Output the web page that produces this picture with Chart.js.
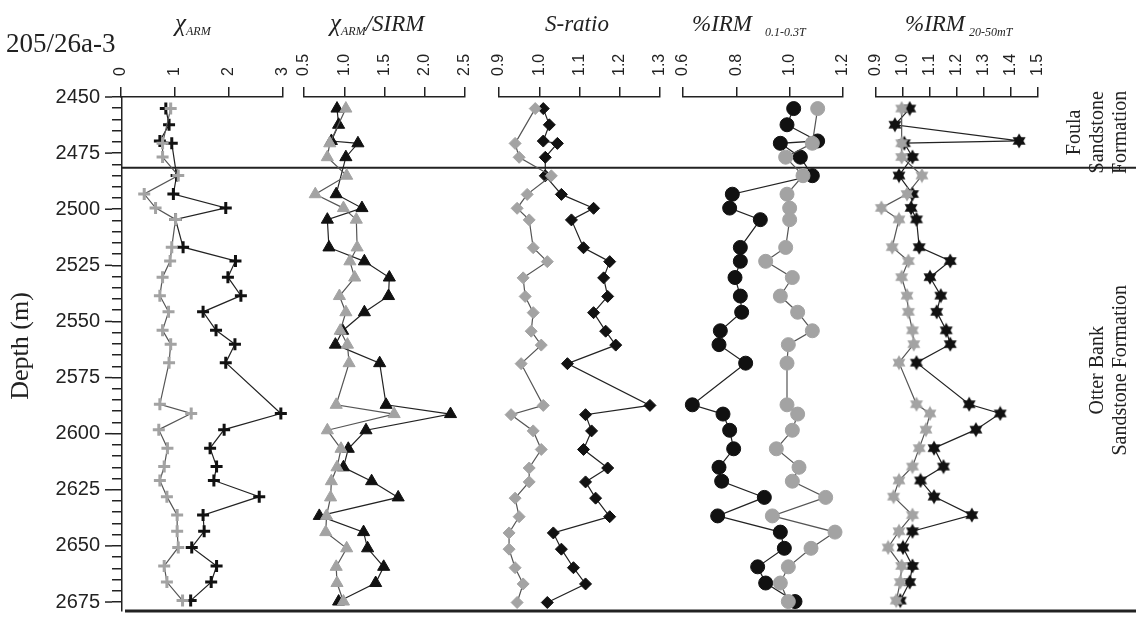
<!DOCTYPE html>
<html>
<head>
<meta charset="utf-8">
<script src="https://cdn.jsdelivr.net/npm/chart.js@4.4.0/dist/chart.umd.min.js"></script>
<style>
  body { margin: 0; background: #fff; }
  #wrap { position: relative; width: 1136px; height: 635px; }
  #wrap canvas { position: absolute; top: 0; }
</style>
</head>
<body>
<div id="wrap">
  <canvas id="frame" width="1136" height="635" style="left:0"></canvas>
</div>
<script>
// sample depths (m), shared by every panel
var depth = [2455, 2462, 2469, 2470, 2476, 2484, 2492, 2498, 2503, 2515, 2521, 2528, 2536, 2543, 2551,
             2557, 2565, 2583, 2587, 2594, 2602, 2610, 2616, 2623, 2631, 2638, 2645, 2653, 2660, 2668];
var depthMin = 2450, depthMax = 2679;
var formationBoundary = 2481.5;

// chi ARM
var chiArmBlack = [0.83, 0.89, 0.72, 0.94, null, 1.03, 0.97, 1.94, 1.01, 1.15, 2.12, 1.98, 2.22, 1.52, 1.76,
                   2.11, 1.94, null, 2.96, 1.91, 1.65, 1.77, 1.72, 2.56, 1.52, 1.54, 1.31, 1.77, 1.67, 1.29];
var chiArmGrey  = [0.92, null, null, 0.77, 0.77, 1.06, 0.43, 0.64, 1.01, 0.94, 0.91, 0.77, 0.72, 0.88, 0.77,
                   0.92, 0.89, 0.72, 1.30, 0.70, 0.86, 0.80, 0.72, 0.85, 1.04, 1.04, 1.06, 0.80, 0.85, 1.14];
// chi ARM / SIRM
var chiSirmBlack = [0.91, 0.93, 0.84, 1.17, 1.02, null, 0.90, 1.22, 0.79, 0.81, 1.25, 1.56, 1.55, 1.25, 0.98,
                    0.89, 1.44, 1.52, 2.32, 1.27, 1.05, 0.99, 1.34, 1.67, 0.69, 1.24, 1.29, 1.49, 1.39, 0.93];
var chiSirmGrey  = [1.02, null, null, 0.82, 0.79, 1.03, 0.64, 0.99, 1.15, 1.16, 1.07, 1.13, 0.94, 1.02, 0.95,
                    1.04, 1.06, 0.90, 1.62, 0.79, 0.96, 0.91, 0.84, 0.83, 0.78, 0.77, 1.03, 0.90, 0.91, 0.99];
// S-ratio
var sRatioBlack = [1.01, 1.025, 1.01, 1.045, 1.015, 1.015, 1.055, 1.135, 1.08, 1.11, 1.175, 1.16, 1.17, 1.135, 1.165,
                   1.19, 1.07, 1.275, 1.115, 1.13, 1.11, 1.17, 1.115, 1.14, 1.175, 1.035, 1.055, 1.085, 1.115, 1.02];
var sRatioGrey  = [0.99, null, null, 0.94, 0.95, 1.03, 0.97, 0.945, 0.975, 0.985, 1.02, 0.96, 0.965, 0.985, 0.98,
                   1.005, 0.955, 1.01, 0.93, 0.985, 1.005, 0.975, 0.975, 0.94, 0.95, 0.925, 0.925, 0.94, 0.96, 0.945];
// %IRM 0.1-0.3T
var irmHardBlack = [1.015, 0.99, 1.105, 0.965, 1.04, 1.085, 0.785, 0.775, 0.89, 0.815, 0.815, 0.795, 0.815, 0.82, 0.74,
                    0.735, 0.835, 0.635, 0.75, 0.775, 0.79, 0.735, 0.745, 0.905, 0.73, 0.965, 0.98, 0.88, 0.91, 1.02];
var irmHardGrey  = [1.105, null, null, 1.085, 0.985, 1.05, 0.99, 1.0, 1.0, 0.985, 0.91, 1.01, 0.965, 1.03, 1.085,
                    0.995, 0.99, 0.99, 1.03, 1.01, 0.95, 1.035, 1.01, 1.135, 0.935, 1.17, 1.08, 0.995, 0.965, 0.995];
// %IRM 20-50mT
var irmSoftBlack = [1.025, 0.97, 1.43, 1.005, 1.035, 0.985, 1.035, 1.03, 1.05, 1.06, 1.175, 1.10, 1.14, 1.125, 1.16,
                    1.175, 1.05, 1.245, 1.36, 1.27, 1.115, 1.15, 1.065, 1.115, 1.255, 1.035, 1.0, 1.035, 1.025, 0.99];
var irmSoftGrey  = [0.995, null, null, 0.995, 0.995, 1.07, 1.015, 0.92, 0.985, 0.96, 1.02, 0.995, 1.015, 1.02, 1.035,
                    1.04, 0.985, 1.05, 1.10, 1.085, 1.06, 1.035, 0.985, 0.965, 1.035, 0.985, 0.945, 0.995, 0.99, 0.975];

var BLACK = '#111', GREY = '#a3a3a3';
var serif = '"Liberation Serif", "Times New Roman", serif';
var sans = '"Liberation Sans", Arial, sans-serif';
Chart.defaults.font.family = sans;
Chart.defaults.color = '#222';

// six pointed star marker
function hexagram(colour) {
  var c = document.createElement('canvas');
  c.width = 16; c.height = 16;
  var g = c.getContext('2d');
  g.fillStyle = colour;
  [-90, 90].forEach(function (a0) {
    g.beginPath();
    for (var k = 0; k < 3; k++) {
      var a = (a0 + k * 120) * Math.PI / 180;
      g[k ? 'lineTo' : 'moveTo'](8 + 7.5 * Math.cos(a), 8 + 7.5 * Math.sin(a));
    }
    g.closePath();
    g.fill();
  });
  return c;
}

var panels = [
  { left: 121, right: 283, min: 0,   max: 3,   step: 1,   dec: 0, black: chiArmBlack,  grey: chiArmGrey,  style: 'cross',    r: 6 },
  { left: 304, right: 465, min: 0.5, max: 2.5, step: 0.5, dec: 1, black: chiSirmBlack, grey: chiSirmGrey, style: 'triangle', r: 7 },
  { left: 499, right: 660, min: 0.9, max: 1.3, step: 0.1, dec: 1, black: sRatioBlack,  grey: sRatioGrey,  style: 'rectRot',  r: 6 },
  { left: 683, right: 843, min: 0.6, max: 1.2, step: 0.2, dec: 1, black: irmHardBlack, grey: irmHardGrey, style: 'circle',   r: 7 },
  { left: 876, right: 1038, min: 0.9, max: 1.5, step: 0.1, dec: 1, black: irmSoftBlack, grey: irmSoftGrey, style: 'star',    r: 8 }
];

function series(vals, colour, lineColour, p) {
  var pts = [];
  depth.forEach(function (d, k) {
    if (vals[k] != null) pts.push({ x: vals[k], y: d });
  });
  return {
    data: pts,
    showLine: true,
    borderColor: lineColour,
    borderWidth: 1.2,
    pointStyle: p.style === 'star' ? hexagram(colour) : p.style,
    pointRadius: p.r,
    pointBackgroundColor: colour,
    pointBorderColor: colour,
    pointBorderWidth: p.style === 'cross' ? 3 : 1,
    clip: false
  };
}

var wrap = document.getElementById('wrap');
var tickFont = 16;
panels.forEach(function (p) {
  var pad = 40;
  var cv = document.createElement('canvas');
  cv.width = (p.right - p.left) + 2 * pad;
  cv.height = 635;
  cv.style.left = (p.left - pad) + 'px';
  wrap.appendChild(cv);
  new Chart(cv, {
    type: 'scatter',
    data: { datasets: [series(p.grey, GREY, '#555', p), series(p.black, BLACK, '#222', p)] },
    options: {
      responsive: false, animation: false, devicePixelRatio: 1,
      layout: { padding: { left: pad, right: pad, top: 0, bottom: 2 } },
      plugins: { legend: { display: false }, tooltip: { enabled: false } },
      scales: {
        x: {
          type: 'linear', position: 'top', min: p.min, max: p.max,
          afterFit: function (s) { s.height = 97; },
          ticks: {
            stepSize: p.step, autoSkip: false, minRotation: 90, maxRotation: 90, padding: 11,
            labelOffset: tickFont * 1.2,   // rotated top labels are pushed a line-height left
            color: '#222', font: { size: tickFont },
            callback: function (v) { return v.toFixed(p.dec); }
          },
          grid: { drawOnChartArea: false, tickLength: 10, color: '#222', lineWidth: 1.5 },
          border: { color: '#222', width: 1.5 }
        },
        y: { display: false, reverse: true, min: depthMin, max: depthMax }
      }
    }
  });
});

function richText(ctx, x, y, parts) {
  parts.forEach(function (q) {
    ctx.font = q.font;
    ctx.fillText(q.t, x, y + (q.dy || 0));
    x += ctx.measureText(q.t).width + (q.gap || 0);
  });
}

var big = 'italic 23px ' + serif, small = 'italic 12px ' + serif;
var titles = [
  { x: 175, parts: [{ t: 'χ', font: 'italic 25px ' + serif }, { t: 'ARM', font: small, dy: 4 }] },
  { x: 330, parts: [{ t: 'χ', font: 'italic 25px ' + serif }, { t: 'ARM', font: small, dy: 4 }, { t: '/SIRM', font: big }] },
  { x: 545, parts: [{ t: 'S-ratio', font: big }] },
  { x: 692, parts: [{ t: '%IRM', font: big, gap: 13 }, { t: '0.1-0.3T', font: small, dy: 5 }] },
  { x: 905, parts: [{ t: '%IRM', font: big, gap: 4 }, { t: '20-50mT', font: small, dy: 5 }] }
];
var formations = [
  { lines: ['Foula', 'Sandstone', 'Formation'], x: 1075, top: depthMin, bottom: formationBoundary },
  { lines: ['Otter Bank', 'Sandstone Formation'], x: 1098, top: formationBoundary, bottom: 2662 }
];

var framePlugin = {
  id: 'frame',
  afterDraw: function (chart) {
    var ctx = chart.ctx, a = chart.chartArea, ys = chart.scales.y;
    ctx.save();
    ctx.strokeStyle = '#222';
    // longer major ticks
    ctx.lineWidth = 1.5;
    for (var v = 2450; v <= 2675; v += 25) {
      var yy = ys.getPixelForValue(v);
      ctx.beginPath(); ctx.moveTo(a.left - 17, yy); ctx.lineTo(a.left - 10, yy); ctx.stroke();
    }
    // formation boundary and bottom line
    ctx.lineWidth = 2;
    var yb = ys.getPixelForValue(formationBoundary);
    ctx.beginPath(); ctx.moveTo(a.left, yb); ctx.lineTo(chart.width, yb); ctx.stroke();
    ctx.lineWidth = 3;
    ctx.beginPath(); ctx.moveTo(a.left + 3, a.bottom); ctx.lineTo(chart.width, a.bottom); ctx.stroke();

    ctx.fillStyle = '#222';
    ctx.textBaseline = 'alphabetic';
    ctx.textAlign = 'left';
    ctx.font = '27px ' + serif;
    ctx.fillText('205/26a-3', 6, 52);
    titles.forEach(function (t) { richText(ctx, t.x, 31, t.parts); });

    ctx.textAlign = 'center';
    ctx.textBaseline = 'middle';
    ctx.font = '26px ' + serif;
    ctx.save(); ctx.translate(21, 346); ctx.rotate(-Math.PI / 2); ctx.fillText('Depth (m)', 0, 0); ctx.restore();

    ctx.font = '20px ' + serif;
    formations.forEach(function (f) {
      var cy = (ys.getPixelForValue(f.top) + ys.getPixelForValue(f.bottom)) / 2;
      f.lines.forEach(function (line, k) {
        ctx.save(); ctx.translate(f.x + k * 23, cy); ctx.rotate(-Math.PI / 2); ctx.fillText(line, 0, 0); ctx.restore();
      });
    });
    ctx.restore();
  }
};

new Chart(document.getElementById('frame'), {
  type: 'scatter',
  data: { datasets: [] },
  options: {
    responsive: false, animation: false, devicePixelRatio: 1,
    layout: { padding: { left: 0, right: 0, top: 97, bottom: 2 } },
    plugins: { legend: { display: false }, tooltip: { enabled: false } },
    scales: {
      x: { display: false, min: 0, max: 1 },
      y: {
        reverse: true, min: depthMin, max: depthMax,
        afterFit: function (s) { s.width = 122; },
        ticks: {
          stepSize: 5, includeBounds: false, autoSkip: false, padding: 12, color: '#222', font: { size: 20 },
          callback: function (v) { return v % 25 === 0 ? String(v) : ''; }
        },
        grid: { drawOnChartArea: false, tickLength: 10, color: '#222', lineWidth: 1.5 },
        border: { color: '#222', width: 1.5 }
      }
    }
  },
  plugins: [framePlugin]
});
</script>
</body>
</html>
